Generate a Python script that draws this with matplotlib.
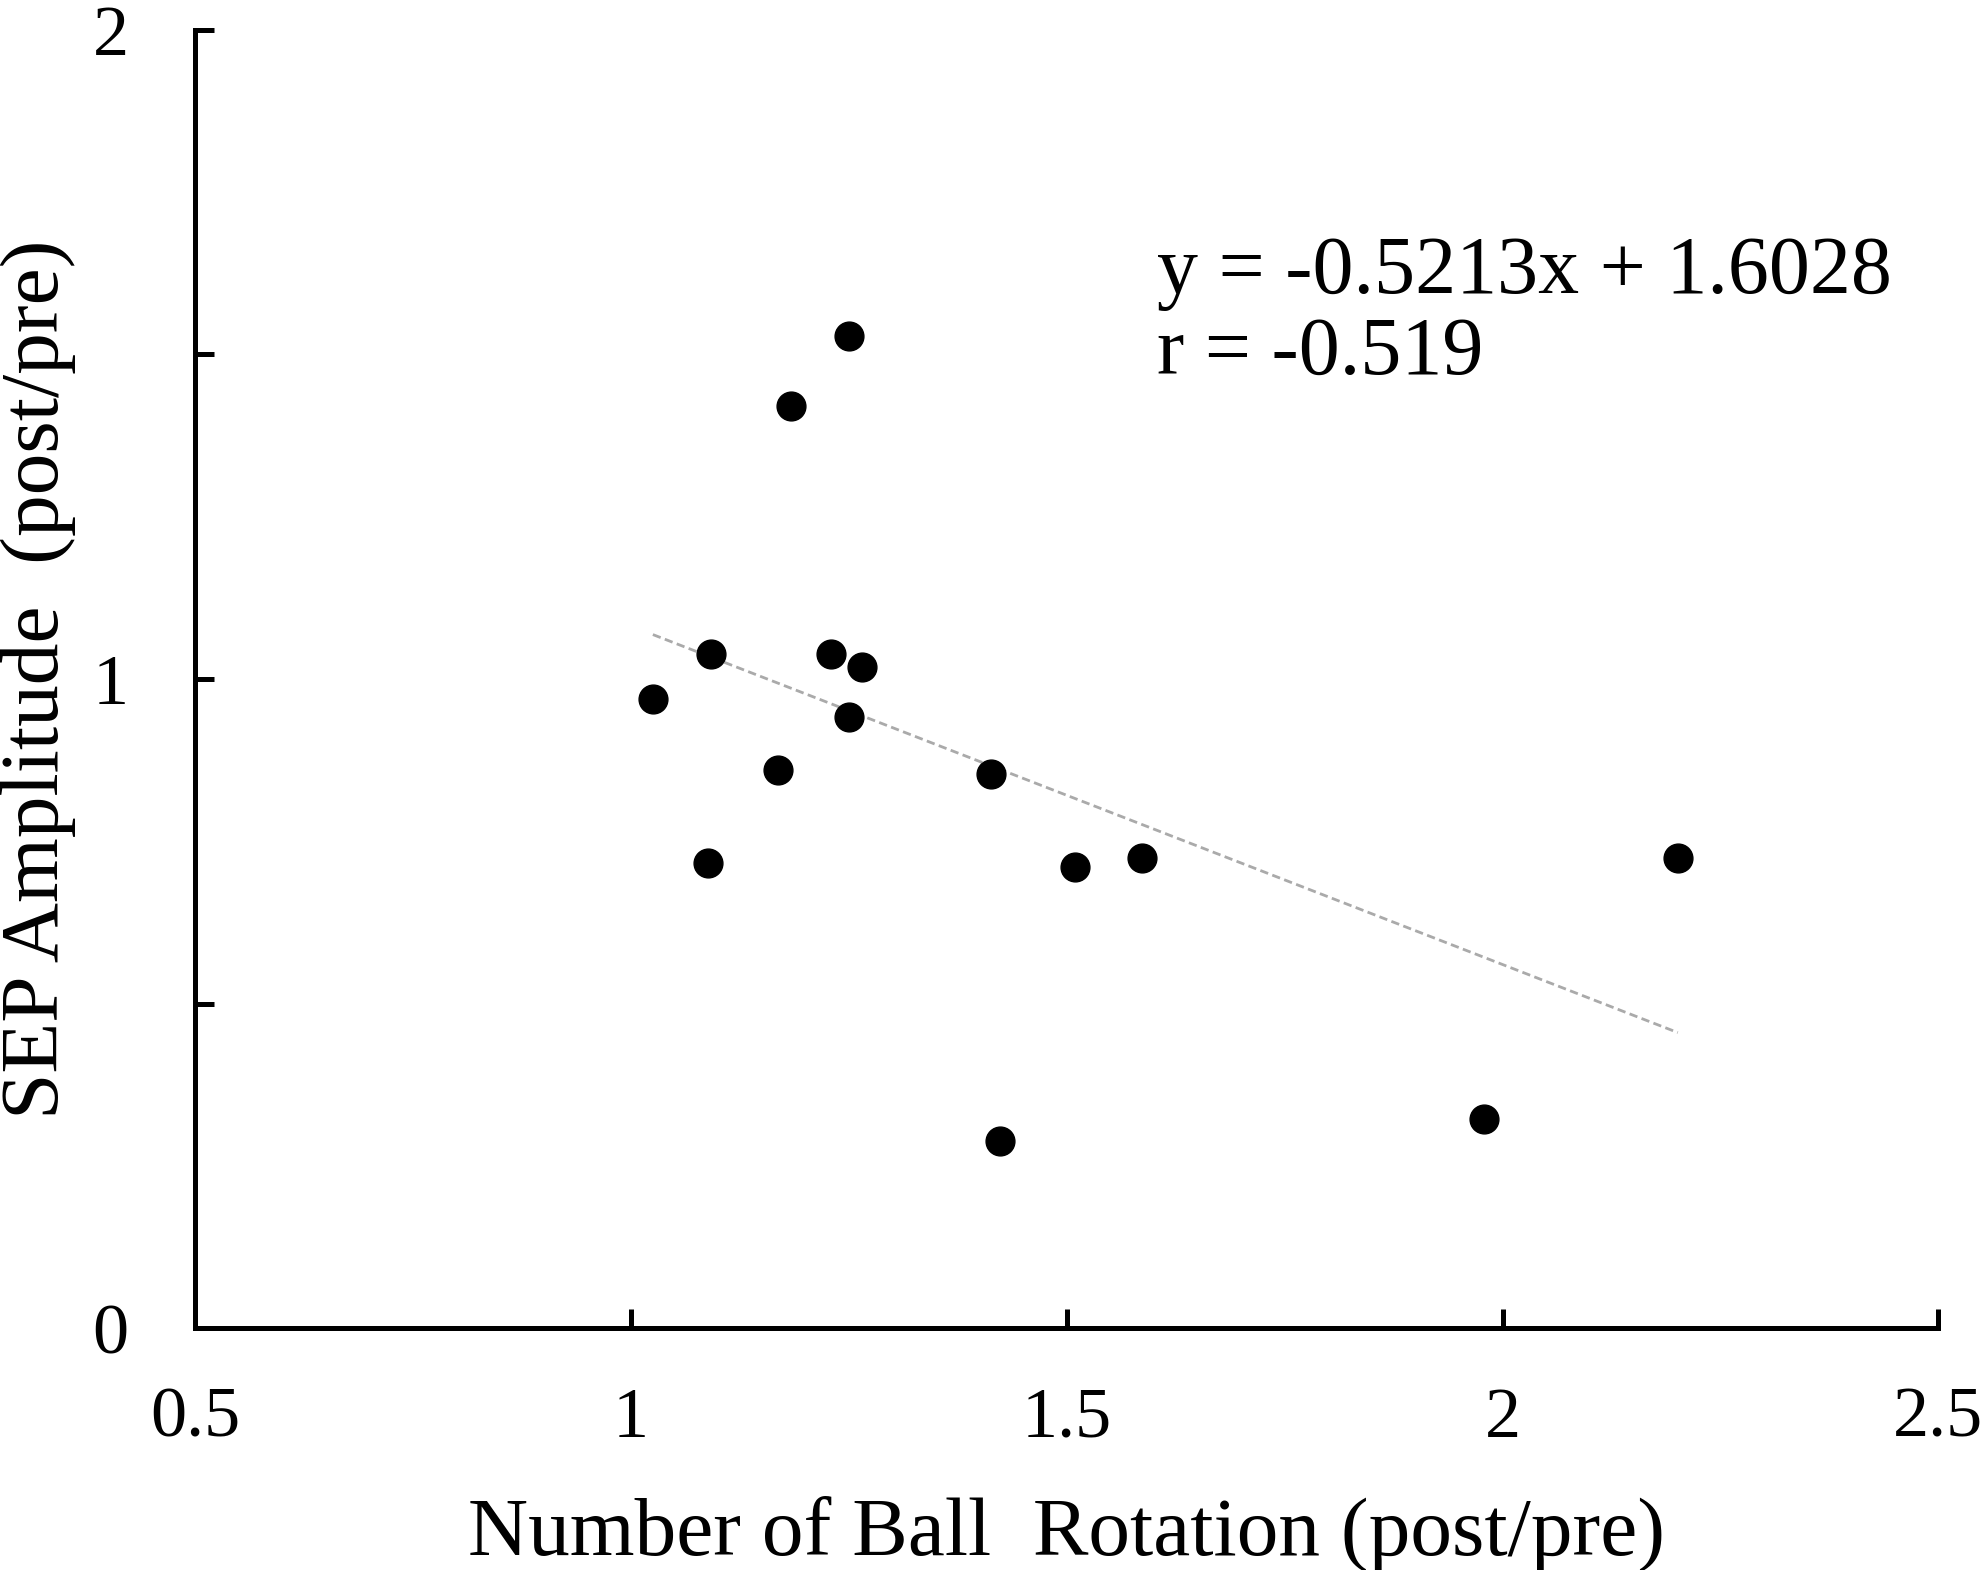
import numpy as np
import matplotlib.pyplot as plt

# values
ball_rotation = [1.025, 1.092, 1.088, 1.169, 1.184, 1.229, 1.250, 1.250, 1.265,
                 1.413, 1.423, 1.509, 1.586, 1.979, 2.201]
sep_amplitude = [0.969, 1.039, 0.716, 0.860, 1.420, 1.039, 1.529, 0.942, 1.018,
                 0.854, 0.288, 0.710, 0.724, 0.323, 0.724]
slope, intercept = -0.5213, 1.6028
r_value = -0.519

plt.rcParams['font.family'] = ['Liberation Serif', 'DejaVu Serif']

fig = plt.figure(figsize=(19.83, 15.70), dpi=100)
ax = fig.add_axes([0.0985, 0.154, 0.879, 0.827])

ax.scatter(ball_rotation, sep_amplitude, s=430, color='black', zorder=3)

xfit = np.array([min(ball_rotation), max(ball_rotation)])
ax.plot(xfit, slope * xfit + intercept, color='#aaaaaa', linestyle=(0, (3, 1.6)),
        linewidth=2, zorder=2)

ax.text(1.603, 1.625, f"y = {slope}x + {intercept}", fontsize=59, va='center')
ax.text(1.603, 1.50, f"r = {r_value}", fontsize=59, va='center')

ax.set_xlim(0.5, 2.5)
ax.set_ylim(0, 2)
ax.set_xticks([0.5, 1, 1.5, 2, 2.5])
ax.set_xticklabels(['0.5', '1', '1.5', '2', '2.5'])
ax.set_yticks([0, 0.5, 1, 1.5, 2])
ax.set_yticklabels(['0', '', '1', '', '2'])

for s in ['top', 'right']:
    ax.spines[s].set_visible(False)
for s in ['left', 'bottom']:
    ax.spines[s].set_linewidth(3.6)

ax.tick_params(direction='in', length=14, width=3.6, labelsize=52)
ax.tick_params(axis='x', pad=42)
ax.tick_params(axis='y', pad=48)

ax.set_xlabel("Number of Ball  Rotation (post/pre)", fontsize=60, labelpad=32)
ax.set_ylabel("SEP Amplitude  (post/pre)", fontsize=60, labelpad=12)

fig.savefig('out.png', dpi=100)
